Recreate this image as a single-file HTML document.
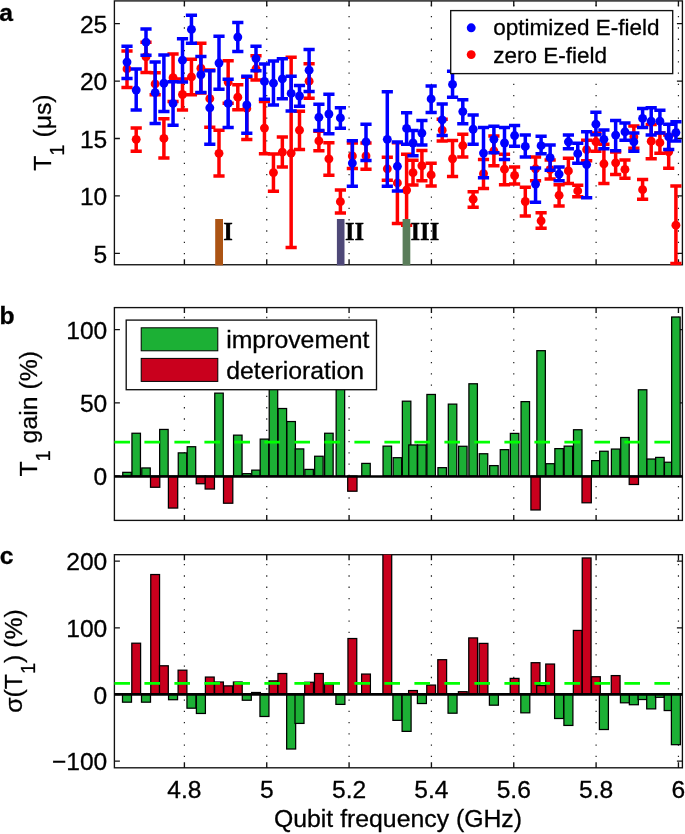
<!DOCTYPE html>
<html lang="en"><head><meta charset="utf-8"><title>Figure</title>
<style>html,body{margin:0;padding:0;background:#fff}svg{display:block;will-change:transform;transform:translateZ(0)}</style></head>
<body>
<svg width="685" height="834" viewBox="0 0 685 834" font-family='"Liberation Sans", sans-serif' fill="#000"><style>text{stroke:#000;stroke-width:0.3px}</style>
<rect width="685" height="834" fill="#fff"/>
<defs>
<clipPath id="clipa"><rect x="113.5" y="0" width="569.8" height="265.65"/></clipPath>
<clipPath id="clipb"><rect x="114.4" y="307.6" width="568" height="212.8"/></clipPath>
<clipPath id="clipc"><rect x="114.4" y="554.7" width="568" height="213.1"/></clipPath>
</defs>
<line x1="184.4" y1="4.77" x2="184.4" y2="264.75" stroke="#222" stroke-width="1.2" stroke-dasharray="1.3 9.98"/>
<line x1="266.74" y1="4.77" x2="266.74" y2="264.75" stroke="#222" stroke-width="1.2" stroke-dasharray="1.3 9.98"/>
<line x1="349.08" y1="4.77" x2="349.08" y2="264.75" stroke="#222" stroke-width="1.2" stroke-dasharray="1.3 9.98"/>
<line x1="431.42" y1="4.77" x2="431.42" y2="264.75" stroke="#222" stroke-width="1.2" stroke-dasharray="1.3 9.98"/>
<line x1="513.76" y1="4.77" x2="513.76" y2="264.75" stroke="#222" stroke-width="1.2" stroke-dasharray="1.3 9.98"/>
<line x1="596.1" y1="4.77" x2="596.1" y2="264.75" stroke="#222" stroke-width="1.2" stroke-dasharray="1.3 9.98"/>
<line x1="678.44" y1="4.77" x2="678.44" y2="264.75" stroke="#222" stroke-width="1.2" stroke-dasharray="1.3 9.98"/>
<rect x="114.4" y="0.9" width="568" height="263.85" fill="none" stroke="#111" stroke-width="1.35"/>
<path d="M184.4 264.75v-5.5M184.4 0.9v5.5M266.74 264.75v-5.5M266.74 0.9v5.5M349.08 264.75v-5.5M349.08 0.9v5.5M431.42 264.75v-5.5M431.42 0.9v5.5M513.76 264.75v-5.5M513.76 0.9v5.5M596.1 264.75v-5.5M596.1 0.9v5.5M678.44 264.75v-5.5M678.44 0.9v5.5M114.4 253.35h5.5M682.4 253.35h-5.5M114.4 195.93h5.5M682.4 195.93h-5.5M114.4 138.51h5.5M682.4 138.51h-5.5M114.4 81.09h5.5M682.4 81.09h-5.5M114.4 23.67h5.5M682.4 23.67h-5.5" stroke="#111" stroke-width="1.35" fill="none"/>
<g clip-path="url(#clipa)"><g stroke="#ff0000" stroke-width="3.5" fill="none">
<path d="M127 50.91V87.39M121.4 50.91h11.2M121.4 87.39h11.2M136.2 127.88V151.16M130.6 127.88h11.2M130.6 151.16h11.2M146 42.2V72.59M140.4 42.2h11.2M140.4 72.59h11.2M155.15 72.82V94.84M149.55 72.82h11.2M149.55 94.84h11.2M163.9 118.7V157.93M158.3 118.7h11.2M158.3 157.93h11.2M173.05 53.9V101.5M167.45 53.9h11.2M167.45 101.5h11.2M182.5 78.9V110.1M176.9 78.9h11.2M176.9 110.1h11.2M191.45 59.17V94.84M185.85 59.17h11.2M185.85 94.84h11.2M200.9 43.34V93.01M195.3 43.34h11.2M195.3 93.01h11.2M209.8 69.95V127.3M204.2 69.95h11.2M204.2 127.3h11.2M219 130.17V176.05M213.4 130.17h11.2M213.4 176.05h11.2M228.15 60.78V103.33M222.55 60.78h11.2M222.55 103.33h11.2M237.8 84.86V109.87M232.2 84.86h11.2M232.2 109.87h11.2M246.8 77.29V139.58M241.2 77.29h11.2M241.2 139.58h11.2M256 55.85V80.05M250.4 55.85h11.2M250.4 80.05h11.2M264.45 101.5V153.8M258.85 101.5h11.2M258.85 153.8h11.2M273.45 153.91V191.19M267.85 153.91h11.2M267.85 191.19h11.2M282.35 137.05V166.88M276.75 137.05h11.2M276.75 166.88h11.2M291.15 57.22V247.62M285.55 57.22h11.2M285.55 247.62h11.2M299.5 111.13V149.44M293.9 111.13h11.2M293.9 149.44h11.2M309.1 63.65V98.28M303.5 63.65h11.2M303.5 98.28h11.2M318.9 131.32V150.82M313.3 131.32h11.2M313.3 150.82h11.2M328.9 142.79V175.25M323.3 142.79h11.2M323.3 175.25h11.2M340.4 190.04V212.98M334.8 190.04h11.2M334.8 212.98h11.2M352.35 143.02V168.6M346.75 143.02h11.2M346.75 168.6h11.2M366 143.02V169.28M360.4 143.02h11.2M360.4 169.28h11.2M387.3 157.24V180.18M381.7 157.24h11.2M381.7 180.18h11.2M397.4 142.79V223.42M391.8 142.79h11.2M391.8 223.42h11.2M406.6 154.37V225.14M401 154.37h11.2M401 225.14h11.2M413 160.22V185.11M407.4 160.22h11.2M407.4 185.11h11.2M421.9 150.59V180.64M416.3 150.59h11.2M416.3 180.64h11.2M431.15 163.2V185.92M425.55 163.2h11.2M425.55 185.92h11.2M442.2 119.27V141.07M436.6 119.27h11.2M436.6 141.07h11.2M452.55 140.61V176.51M446.95 140.61h11.2M446.95 176.51h11.2M462.8 134.3V156.9M457.2 134.3h11.2M457.2 156.9h11.2M473.15 191.65V207.25M467.55 191.65h11.2M467.55 207.25h11.2M483.5 159.42V188.44M477.9 159.42h11.2M477.9 188.44h11.2M493.9 135.91V165.73M488.3 135.91h11.2M488.3 165.73h11.2M504.5 154.37V184.65M498.9 154.37h11.2M498.9 184.65h11.2M514.6 166.99V184.08M509 166.99h11.2M509 184.08h11.2M525.3 187.18V216.08M519.7 187.18h11.2M519.7 216.08h11.2M535.55 157.01V180.64M529.95 157.01h11.2M529.95 180.64h11.2M541.1 212.87V228.24M535.5 212.87h11.2M535.5 228.24h11.2M550.15 160.11V178.92M544.55 160.11h11.2M544.55 178.92h11.2M559.1 184.65V206.1M553.5 184.65h11.2M553.5 206.1h11.2M568.4 158.27V183.39M562.8 158.27h11.2M562.8 183.39h11.2M577.75 185.23V196.81M572.15 185.23h11.2M572.15 196.81h11.2M586.65 140.15V160.8M581.05 140.15h11.2M581.05 160.8h11.2M595.9 133.04V151.16M590.3 133.04h11.2M590.3 151.16h11.2M603.9 144.16V183.39M598.3 144.16h11.2M598.3 183.39h11.2M615.65 151.96V174.56M610.05 151.96h11.2M610.05 174.56h11.2M624.95 159.99V178.34M619.35 159.99h11.2M619.35 178.34h11.2M633.85 126.04V148.18M628.25 126.04h11.2M628.25 148.18h11.2M642.6 179.61V199.34M637 179.61h11.2M637 199.34h11.2M651.2 124.44V158.73M645.6 124.44h11.2M645.6 158.73h11.2M659.9 133.04V153.23M654.3 133.04h11.2M654.3 153.23h11.2M668.7 135.1V168.37M663.1 135.1h11.2M663.1 168.37h11.2M675.9 185.92V263.57M670.3 185.92h11.2M670.3 263.57h11.2"/></g><g fill="#ff0000">
<circle cx="127" cy="68.92" r="4.45"/>
<circle cx="136.2" cy="139.35" r="4.45"/>
<circle cx="146" cy="56.76" r="4.45"/>
<circle cx="155.15" cy="83.95" r="4.45"/>
<circle cx="163.9" cy="138.43" r="4.45"/>
<circle cx="173.05" cy="77.64" r="4.45"/>
<circle cx="182.5" cy="94.5" r="4.45"/>
<circle cx="191.45" cy="76.95" r="4.45"/>
<circle cx="200.9" cy="68.23" r="4.45"/>
<circle cx="209.8" cy="98.63" r="4.45"/>
<circle cx="219" cy="153.34" r="4.45"/>
<circle cx="228.15" cy="82" r="4.45"/>
<circle cx="237.8" cy="97.14" r="4.45"/>
<circle cx="246.8" cy="108.38" r="4.45"/>
<circle cx="256" cy="68.81" r="4.45"/>
<circle cx="264.45" cy="128.11" r="4.45"/>
<circle cx="273.45" cy="172.61" r="4.45"/>
<circle cx="282.35" cy="152.19" r="4.45"/>
<circle cx="291.15" cy="153.11" r="4.45"/>
<circle cx="299.5" cy="130.17" r="4.45"/>
<circle cx="309.1" cy="81.19" r="4.45"/>
<circle cx="318.9" cy="140.95" r="4.45"/>
<circle cx="328.9" cy="158.85" r="4.45"/>
<circle cx="340.4" cy="201.63" r="4.45"/>
<circle cx="352.35" cy="155.98" r="4.45"/>
<circle cx="366" cy="155.98" r="4.45"/>
<circle cx="387.3" cy="168.82" r="4.45"/>
<circle cx="397.4" cy="182.93" r="4.45"/>
<circle cx="406.6" cy="190.04" r="4.45"/>
<circle cx="413" cy="172.72" r="4.45"/>
<circle cx="421.9" cy="165.73" r="4.45"/>
<circle cx="431.15" cy="174.9" r="4.45"/>
<circle cx="442.2" cy="130.17" r="4.45"/>
<circle cx="452.55" cy="158.73" r="4.45"/>
<circle cx="462.8" cy="145.54" r="4.45"/>
<circle cx="473.15" cy="199.22" r="4.45"/>
<circle cx="483.5" cy="173.76" r="4.45"/>
<circle cx="493.9" cy="150.82" r="4.45"/>
<circle cx="504.5" cy="169.17" r="4.45"/>
<circle cx="514.6" cy="175.48" r="4.45"/>
<circle cx="525.3" cy="201.51" r="4.45"/>
<circle cx="535.55" cy="168.82" r="4.45"/>
<circle cx="541.1" cy="220.78" r="4.45"/>
<circle cx="550.15" cy="169.51" r="4.45"/>
<circle cx="559.1" cy="195.32" r="4.45"/>
<circle cx="568.4" cy="170.89" r="4.45"/>
<circle cx="577.75" cy="190.96" r="4.45"/>
<circle cx="586.65" cy="149.67" r="4.45"/>
<circle cx="595.9" cy="141.87" r="4.45"/>
<circle cx="603.9" cy="163.78" r="4.45"/>
<circle cx="615.65" cy="162.86" r="4.45"/>
<circle cx="624.95" cy="169.4" r="4.45"/>
<circle cx="633.85" cy="136.82" r="4.45"/>
<circle cx="642.6" cy="189.7" r="4.45"/>
<circle cx="651.2" cy="141.18" r="4.45"/>
<circle cx="659.9" cy="142.67" r="4.45"/>
<circle cx="668.7" cy="151.73" r="4.45"/>
<circle cx="675.9" cy="225.14" r="4.45"/>
</g></g>
<g clip-path="url(#clipa)"><g stroke="#0000ff" stroke-width="3.5" fill="none">
<path d="M127 46.33V78.44M121.4 46.33h11.2M121.4 78.44h11.2M136.2 68.92V110.1M130.6 68.92h11.2M130.6 110.1h11.2M146 29.01V55.27M140.4 29.01h11.2M140.4 55.27h11.2M155.15 62.04V123.4M149.55 62.04h11.2M149.55 123.4h11.2M163.9 55.04V111.47M158.3 55.04h11.2M158.3 111.47h11.2M173.05 81.77V125.35M167.45 81.77h11.2M167.45 125.35h11.2M182.5 38.64V82M176.9 38.64h11.2M176.9 82h11.2M191.45 15.24V43.34M185.85 15.24h11.2M185.85 43.34h11.2M200.9 56.53V92.55M195.3 56.53h11.2M195.3 92.55h11.2M209.8 70.76V144.16M204.2 70.76h11.2M204.2 144.16h11.2M219 36.35V89.22M213.4 36.35h11.2M213.4 89.22h11.2M228.15 79.13V127.42M222.55 79.13h11.2M222.55 127.42h11.2M237.8 22.58V51.49M232.2 22.58h11.2M232.2 51.49h11.2M246.8 76.26V133.27M241.2 76.26h11.2M241.2 133.27h11.2M256 46.21V70.87M250.4 46.21h11.2M250.4 70.87h11.2M264.45 63.99V99.2M258.85 63.99h11.2M258.85 99.2h11.2M273.45 61.01V105.05M267.85 61.01h11.2M267.85 105.05h11.2M282.35 58.83V98.74M276.75 58.83h11.2M276.75 98.74h11.2M291.15 76.26V111.02M285.55 76.26h11.2M285.55 111.02h11.2M299.5 85.55V106.31M293.9 85.55h11.2M293.9 106.31h11.2M309.1 49.42V91.4M303.5 49.42h11.2M303.5 91.4h11.2M318.9 104.13V130.4M313.3 104.13h11.2M313.3 130.4h11.2M328.9 94.27V133.73M323.3 94.27h11.2M323.3 133.73h11.2M340.4 107.8V128.22M334.8 107.8h11.2M334.8 128.22h11.2M352.35 140.84V186.14M346.75 140.84h11.2M346.75 186.14h11.2M366 124.21V160.57M360.4 124.21h11.2M360.4 160.57h11.2M387.3 91.86V186.37M381.7 91.86h11.2M381.7 186.37h11.2M397.4 142.1V190.96M391.8 142.1h11.2M391.8 190.96h11.2M406.6 112.85V144.28M401 112.85h11.2M401 144.28h11.2M413 130.52V155.63M407.4 130.52h11.2M407.4 155.63h11.2M421.9 120.42V145.08M416.3 120.42h11.2M416.3 145.08h11.2M431.15 85.9V112.39M425.55 85.9h11.2M425.55 112.39h11.2M442.2 104.02V135.56M436.6 104.02h11.2M436.6 135.56h11.2M452.55 71.33V97.25M446.95 71.33h11.2M446.95 97.25h11.2M462.8 99.78V123.75M457.2 99.78h11.2M457.2 123.75h11.2M473.15 114.92V144.28M467.55 114.92h11.2M467.55 144.28h11.2M483.5 127.42V177.77M477.9 127.42h11.2M477.9 177.77h11.2M493.9 126.16V152.65M488.3 126.16h11.2M488.3 152.65h11.2M504.5 127.42V159.42M498.9 127.42h11.2M498.9 159.42h11.2M514.6 125.47V146.34M509 125.47h11.2M509 146.34h11.2M525.3 134.99V156.9M519.7 134.99h11.2M519.7 156.9h11.2M535.55 168.02V202.32M529.95 168.02h11.2M529.95 202.32h11.2M541.1 136.36V153.68M535.5 136.36h11.2M535.5 153.68h11.2M550.15 145.08V170.32M544.55 145.08h11.2M544.55 170.32h11.2M559.1 167.1V180.87M553.5 167.1h11.2M553.5 180.87h11.2M568.4 135.1V148.87M562.8 135.1h11.2M562.8 148.87h11.2M577.75 143.13V163.32M572.15 143.13h11.2M572.15 163.32h11.2M586.65 131.78V197.84M581.05 131.78h11.2M581.05 197.84h11.2M595.9 112.16V134.76M590.3 112.16h11.2M590.3 134.76h11.2M603.9 130.06V148.87M598.3 130.06h11.2M598.3 148.87h11.2M615.65 120.42V150.7M610.05 120.42h11.2M610.05 150.7h11.2M624.95 122.94V140.15M619.35 122.94h11.2M619.35 140.15h11.2M633.85 133.04V151.16M628.25 133.04h11.2M628.25 151.16h11.2M642.6 108.38V127.53M637 108.38h11.2M637 127.53h11.2M651.2 107.8V135.1M645.6 107.8h11.2M645.6 135.1h11.2M659.9 110.33V133.04M654.3 110.33h11.2M654.3 133.04h11.2M668.7 124.21V149.44M663.1 124.21h11.2M663.1 149.44h11.2M675.9 121.68V141.07M670.3 121.68h11.2M670.3 141.07h11.2"/></g><g fill="#0000ff">
<circle cx="127" cy="62.04" r="4.45"/>
<circle cx="136.2" cy="90.03" r="4.45"/>
<circle cx="146" cy="42.2" r="4.45"/>
<circle cx="155.15" cy="92.66" r="4.45"/>
<circle cx="163.9" cy="83.26" r="4.45"/>
<circle cx="173.05" cy="103.45" r="4.45"/>
<circle cx="182.5" cy="60.2" r="4.45"/>
<circle cx="191.45" cy="29.46" r="4.45"/>
<circle cx="200.9" cy="74.77" r="4.45"/>
<circle cx="209.8" cy="107.8" r="4.45"/>
<circle cx="219" cy="63.07" r="4.45"/>
<circle cx="228.15" cy="103.45" r="4.45"/>
<circle cx="237.8" cy="37.03" r="4.45"/>
<circle cx="246.8" cy="104.94" r="4.45"/>
<circle cx="256" cy="58.6" r="4.45"/>
<circle cx="264.45" cy="81.42" r="4.45"/>
<circle cx="273.45" cy="83.14" r="4.45"/>
<circle cx="282.35" cy="78.9" r="4.45"/>
<circle cx="291.15" cy="93.47" r="4.45"/>
<circle cx="299.5" cy="95.99" r="4.45"/>
<circle cx="309.1" cy="70.18" r="4.45"/>
<circle cx="318.9" cy="117.32" r="4.45"/>
<circle cx="328.9" cy="114" r="4.45"/>
<circle cx="340.4" cy="117.9" r="4.45"/>
<circle cx="352.35" cy="163.09" r="4.45"/>
<circle cx="366" cy="141.87" r="4.45"/>
<circle cx="387.3" cy="139.35" r="4.45"/>
<circle cx="397.4" cy="166.3" r="4.45"/>
<circle cx="406.6" cy="128.45" r="4.45"/>
<circle cx="413" cy="143.02" r="4.45"/>
<circle cx="421.9" cy="133.04" r="4.45"/>
<circle cx="431.15" cy="98.97" r="4.45"/>
<circle cx="442.2" cy="119.96" r="4.45"/>
<circle cx="452.55" cy="84.41" r="4.45"/>
<circle cx="462.8" cy="111.59" r="4.45"/>
<circle cx="473.15" cy="129.25" r="4.45"/>
<circle cx="483.5" cy="153.11" r="4.45"/>
<circle cx="493.9" cy="139.35" r="4.45"/>
<circle cx="504.5" cy="143.02" r="4.45"/>
<circle cx="514.6" cy="135.56" r="4.45"/>
<circle cx="525.3" cy="146.46" r="4.45"/>
<circle cx="535.55" cy="184.08" r="4.45"/>
<circle cx="541.1" cy="145.66" r="4.45"/>
<circle cx="550.15" cy="157.7" r="4.45"/>
<circle cx="559.1" cy="174.1" r="4.45"/>
<circle cx="568.4" cy="141.87" r="4.45"/>
<circle cx="577.75" cy="153.68" r="4.45"/>
<circle cx="586.65" cy="164.58" r="4.45"/>
<circle cx="595.9" cy="124.21" r="4.45"/>
<circle cx="603.9" cy="139.35" r="4.45"/>
<circle cx="615.65" cy="135.1" r="4.45"/>
<circle cx="624.95" cy="131.78" r="4.45"/>
<circle cx="633.85" cy="141.87" r="4.45"/>
<circle cx="642.6" cy="118.47" r="4.45"/>
<circle cx="651.2" cy="121.22" r="4.45"/>
<circle cx="659.9" cy="121.22" r="4.45"/>
<circle cx="668.7" cy="136.82" r="4.45"/>
<circle cx="675.9" cy="132.58" r="4.45"/>
</g></g>
<rect x="215.2" y="219" width="7.8" height="46.35" fill="#ac5414"/>
<rect x="336.9" y="219" width="7.6" height="46.35" fill="#4e4878"/>
<rect x="402.6" y="219" width="7.7" height="46.35" fill="#5a7d5a"/>
<text x="223.3" y="239.7" font-family='"Liberation Serif", serif' font-weight="bold" font-size="24.7">I</text>
<text x="345.0" y="239.7" font-family='"Liberation Serif", serif' font-weight="bold" font-size="24.7">II</text>
<text x="410.5" y="239.7" font-family='"Liberation Serif", serif' font-weight="bold" font-size="24.7">III</text>
<text x="107.3" y="262.55" font-size="24.6" text-anchor="end">5</text>
<text x="107.3" y="205.13" font-size="24.6" text-anchor="end">10</text>
<text x="107.3" y="147.71" font-size="24.6" text-anchor="end">15</text>
<text x="107.3" y="90.29" font-size="24.6" text-anchor="end">20</text>
<text x="107.3" y="32.87" font-size="24.6" text-anchor="end">25</text>
<rect x="450.7" y="10.6" width="222" height="63" fill="#fff" stroke="#111" stroke-width="1.35"/>
<circle cx="471.2" cy="27.8" r="4.45" fill="#0000ff"/><circle cx="471.2" cy="54.6" r="4.45" fill="#ff0000"/>
<text x="493.2" y="35.2" font-size="22.5">optimized E-field</text>
<text x="493.2" y="62.8" font-size="22.5">zero E-field</text>
<text transform="translate(50.9 132.6) rotate(-90)" font-size="24.8" text-anchor="middle">T<tspan font-size="20" dy="12.6">1</tspan><tspan dy="-12.6"> (μs)</tspan></text>
<text x="-0.8" y="21.3" font-size="24.7" font-weight="bold">a</text>
<line x1="184.4" y1="316.85" x2="184.4" y2="520.4" stroke="#222" stroke-width="1.2" stroke-dasharray="1.3 9.98"/>
<line x1="266.74" y1="316.85" x2="266.74" y2="520.4" stroke="#222" stroke-width="1.2" stroke-dasharray="1.3 9.98"/>
<line x1="349.08" y1="316.85" x2="349.08" y2="520.4" stroke="#222" stroke-width="1.2" stroke-dasharray="1.3 9.98"/>
<line x1="431.42" y1="316.85" x2="431.42" y2="520.4" stroke="#222" stroke-width="1.2" stroke-dasharray="1.3 9.98"/>
<line x1="513.76" y1="316.85" x2="513.76" y2="520.4" stroke="#222" stroke-width="1.2" stroke-dasharray="1.3 9.98"/>
<line x1="596.1" y1="316.85" x2="596.1" y2="520.4" stroke="#222" stroke-width="1.2" stroke-dasharray="1.3 9.98"/>
<line x1="678.44" y1="316.85" x2="678.44" y2="520.4" stroke="#222" stroke-width="1.2" stroke-dasharray="1.3 9.98"/>
<rect x="114.4" y="307.6" width="568" height="212.8" fill="none" stroke="#111" stroke-width="1.35"/>
<path d="M184.4 520.4v-5.5M184.4 307.6v5.5M266.74 520.4v-5.5M266.74 307.6v5.5M349.08 520.4v-5.5M349.08 307.6v5.5M431.42 520.4v-5.5M431.42 307.6v5.5M513.76 520.4v-5.5M513.76 307.6v5.5M596.1 520.4v-5.5M596.1 307.6v5.5M678.44 520.4v-5.5M678.44 307.6v5.5M114.4 476h5.5M682.4 476h-5.5M114.4 402.8h5.5M682.4 402.8h-5.5M114.4 329.6h5.5M682.4 329.6h-5.5" stroke="#111" stroke-width="1.35" fill="none"/>
<g clip-path="url(#clipb)" stroke="#000" stroke-width="1.25">
<rect x="122.75" y="472.34" width="8.5" height="3.66" fill="#1cb035"/>
<rect x="131.95" y="433.25" width="8.5" height="42.75" fill="#1cb035"/>
<rect x="141.75" y="467.95" width="8.5" height="8.05" fill="#1cb035"/>
<rect x="150.5" y="476" width="9.3" height="11.27" fill="#c9001d"/>
<rect x="159.65" y="429.44" width="8.5" height="46.56" fill="#1cb035"/>
<rect x="168.4" y="476" width="9.3" height="32.06" fill="#c9001d"/>
<rect x="178.25" y="452.87" width="8.5" height="23.13" fill="#1cb035"/>
<rect x="187.2" y="446.72" width="8.5" height="29.28" fill="#1cb035"/>
<rect x="196.25" y="476" width="9.3" height="7.76" fill="#c9001d"/>
<rect x="205.15" y="476" width="9.3" height="13.03" fill="#c9001d"/>
<rect x="214.75" y="393.14" width="8.5" height="82.86" fill="#1cb035"/>
<rect x="223.5" y="476" width="9.3" height="27.23" fill="#c9001d"/>
<rect x="233.55" y="435.15" width="8.5" height="40.85" fill="#1cb035"/>
<rect x="242.55" y="473.66" width="8.5" height="2.34" fill="#1cb035"/>
<rect x="251.75" y="470.14" width="8.5" height="5.86" fill="#1cb035"/>
<rect x="260.2" y="439.11" width="8.5" height="36.89" fill="#1cb035"/>
<rect x="269.2" y="380.84" width="8.5" height="95.16" fill="#1cb035"/>
<rect x="278.1" y="408.51" width="8.5" height="67.49" fill="#1cb035"/>
<rect x="286.9" y="421.54" width="8.5" height="54.46" fill="#1cb035"/>
<rect x="295.25" y="448.92" width="8.5" height="27.08" fill="#1cb035"/>
<rect x="304.85" y="469.41" width="8.5" height="6.59" fill="#1cb035"/>
<rect x="314.65" y="456.24" width="8.5" height="19.76" fill="#1cb035"/>
<rect x="324.65" y="433.25" width="8.5" height="42.75" fill="#1cb035"/>
<rect x="336.15" y="363.27" width="8.5" height="112.73" fill="#1cb035"/>
<rect x="347.7" y="476" width="9.3" height="15.23" fill="#c9001d"/>
<rect x="361.75" y="463.41" width="8.5" height="12.59" fill="#1cb035"/>
<rect x="383.05" y="446.13" width="8.5" height="29.87" fill="#1cb035"/>
<rect x="393.15" y="457.7" width="8.5" height="18.3" fill="#1cb035"/>
<rect x="402.35" y="401.19" width="8.5" height="74.81" fill="#1cb035"/>
<rect x="408.75" y="444.96" width="8.5" height="31.04" fill="#1cb035"/>
<rect x="417.65" y="444.96" width="8.5" height="31.04" fill="#1cb035"/>
<rect x="426.9" y="394.46" width="8.5" height="81.54" fill="#1cb035"/>
<rect x="437.95" y="467.66" width="8.5" height="8.34" fill="#1cb035"/>
<rect x="448.3" y="404.12" width="8.5" height="71.88" fill="#1cb035"/>
<rect x="458.55" y="446.28" width="8.5" height="29.72" fill="#1cb035"/>
<rect x="468.9" y="383.77" width="8.5" height="92.23" fill="#1cb035"/>
<rect x="479.25" y="453.75" width="8.5" height="22.25" fill="#1cb035"/>
<rect x="489.65" y="465.61" width="8.5" height="10.39" fill="#1cb035"/>
<rect x="500.25" y="449.65" width="8.5" height="26.35" fill="#1cb035"/>
<rect x="510.35" y="433.4" width="8.5" height="42.6" fill="#1cb035"/>
<rect x="521.05" y="401.63" width="8.5" height="74.37" fill="#1cb035"/>
<rect x="530.9" y="476" width="9.3" height="33.96" fill="#c9001d"/>
<rect x="536.85" y="350.68" width="8.5" height="125.32" fill="#1cb035"/>
<rect x="545.9" y="463.7" width="8.5" height="12.3" fill="#1cb035"/>
<rect x="554.85" y="448.62" width="8.5" height="27.38" fill="#1cb035"/>
<rect x="564.15" y="446.13" width="8.5" height="29.87" fill="#1cb035"/>
<rect x="573.5" y="429.74" width="8.5" height="46.26" fill="#1cb035"/>
<rect x="582" y="476" width="9.3" height="26.79" fill="#c9001d"/>
<rect x="591.65" y="460.63" width="8.5" height="15.37" fill="#1cb035"/>
<rect x="599.65" y="451.26" width="8.5" height="24.74" fill="#1cb035"/>
<rect x="611.4" y="449.06" width="8.5" height="26.94" fill="#1cb035"/>
<rect x="620.7" y="437.5" width="8.5" height="38.5" fill="#1cb035"/>
<rect x="629.2" y="476" width="9.3" height="8.49" fill="#c9001d"/>
<rect x="638.35" y="389.77" width="8.5" height="86.23" fill="#1cb035"/>
<rect x="646.95" y="459.02" width="8.5" height="16.98" fill="#1cb035"/>
<rect x="655.65" y="457.41" width="8.5" height="18.59" fill="#1cb035"/>
<rect x="664.45" y="462.24" width="8.5" height="13.76" fill="#1cb035"/>
<rect x="671.65" y="317.01" width="8.5" height="158.99" fill="#1cb035"/>
</g>
<line x1="114.4" y1="476.5" x2="682.4" y2="476.5" stroke="#000" stroke-width="2.7"/>
<line x1="114.4" y1="442.1" x2="682.4" y2="442.1" stroke="#00ff00" stroke-width="2.8" stroke-dasharray="15.6 14.4"/>
<text x="107.3" y="485.2" font-size="24.6" text-anchor="end">0</text>
<text x="107.3" y="412" font-size="24.6" text-anchor="end">50</text>
<text x="107.3" y="338.8" font-size="24.6" text-anchor="end">100</text>
<rect x="126.2" y="320.1" width="250.3" height="69.6" fill="#fff" stroke="#111" stroke-width="1.35"/>
<rect x="141.2" y="327.8" width="76.6" height="23" fill="#1cb035" stroke="#000" stroke-width="1"/>
<rect x="141.2" y="358.4" width="76.6" height="23" fill="#c9001d" stroke="#000" stroke-width="1"/>
<text x="226.2" y="347.9" font-size="24.8">improvement</text>
<text x="226.2" y="378.6" font-size="24.8">deterioration</text>
<text transform="translate(36.9 413.8) rotate(-90)" font-size="24.8" text-anchor="middle">T<tspan font-size="20" dy="12.6">1</tspan><tspan dy="-12.6"> gain (%)</tspan></text>
<text x="-0.4" y="324" font-size="24.7" font-weight="bold">b</text>
<line x1="184.4" y1="564.05" x2="184.4" y2="767.8" stroke="#222" stroke-width="1.2" stroke-dasharray="1.3 9.98"/>
<line x1="266.74" y1="564.05" x2="266.74" y2="767.8" stroke="#222" stroke-width="1.2" stroke-dasharray="1.3 9.98"/>
<line x1="349.08" y1="564.05" x2="349.08" y2="767.8" stroke="#222" stroke-width="1.2" stroke-dasharray="1.3 9.98"/>
<line x1="431.42" y1="564.05" x2="431.42" y2="767.8" stroke="#222" stroke-width="1.2" stroke-dasharray="1.3 9.98"/>
<line x1="513.76" y1="564.05" x2="513.76" y2="767.8" stroke="#222" stroke-width="1.2" stroke-dasharray="1.3 9.98"/>
<line x1="596.1" y1="564.05" x2="596.1" y2="767.8" stroke="#222" stroke-width="1.2" stroke-dasharray="1.3 9.98"/>
<line x1="678.44" y1="564.05" x2="678.44" y2="767.8" stroke="#222" stroke-width="1.2" stroke-dasharray="1.3 9.98"/>
<rect x="114.4" y="554.7" width="568" height="213.1" fill="none" stroke="#111" stroke-width="1.35"/>
<path d="M184.4 767.8v-5.5M184.4 554.7v5.5M266.74 767.8v-5.5M266.74 554.7v5.5M349.08 767.8v-5.5M349.08 554.7v5.5M431.42 767.8v-5.5M431.42 554.7v5.5M513.76 767.8v-5.5M513.76 554.7v5.5M596.1 767.8v-5.5M596.1 554.7v5.5M678.44 767.8v-5.5M678.44 554.7v5.5M114.4 761.08h5.5M682.4 761.08h-5.5M114.4 694.45h5.5M682.4 694.45h-5.5M114.4 627.82h5.5M682.4 627.82h-5.5M114.4 561.19h5.5M682.4 561.19h-5.5" stroke="#111" stroke-width="1.35" fill="none"/>
<g clip-path="url(#clipc)" stroke="#000" stroke-width="1.25">
<rect x="122.5" y="694.3" width="9.0" height="7.88" fill="#1cb035"/>
<rect x="131.8" y="643.2" width="8.8" height="51.1" fill="#c9001d"/>
<rect x="141.5" y="694.3" width="9.0" height="7.88" fill="#1cb035"/>
<rect x="150.75" y="574.53" width="8.8" height="119.77" fill="#c9001d"/>
<rect x="159.5" y="665.78" width="8.8" height="28.52" fill="#c9001d"/>
<rect x="168.55" y="694.3" width="9.0" height="5.41" fill="#1cb035"/>
<rect x="178.1" y="670.18" width="8.8" height="24.12" fill="#c9001d"/>
<rect x="186.95" y="694.3" width="9.0" height="13.89" fill="#1cb035"/>
<rect x="196.4" y="694.3" width="9.0" height="19.17" fill="#1cb035"/>
<rect x="205.4" y="677.06" width="8.8" height="17.24" fill="#c9001d"/>
<rect x="214.6" y="682.01" width="8.8" height="12.29" fill="#c9001d"/>
<rect x="223.75" y="685.88" width="8.8" height="8.42" fill="#c9001d"/>
<rect x="233.4" y="682.01" width="8.8" height="12.29" fill="#c9001d"/>
<rect x="242.3" y="694.3" width="9.0" height="5.94" fill="#1cb035"/>
<rect x="251.6" y="692.5" width="8.8" height="1.8" fill="#c9001d"/>
<rect x="259.95" y="694.3" width="9.0" height="22.18" fill="#1cb035"/>
<rect x="269.05" y="680.87" width="8.8" height="13.43" fill="#c9001d"/>
<rect x="277.95" y="673.52" width="8.8" height="20.78" fill="#c9001d"/>
<rect x="286.65" y="694.3" width="9.0" height="54.71" fill="#1cb035"/>
<rect x="295" y="694.3" width="9.0" height="29.12" fill="#1cb035"/>
<rect x="304.7" y="682.27" width="8.8" height="12.03" fill="#c9001d"/>
<rect x="314.5" y="673.52" width="8.8" height="20.78" fill="#c9001d"/>
<rect x="324.5" y="684.21" width="8.8" height="10.09" fill="#c9001d"/>
<rect x="335.9" y="694.3" width="9.0" height="10.09" fill="#1cb035"/>
<rect x="347.95" y="638.52" width="8.8" height="55.78" fill="#c9001d"/>
<rect x="361.6" y="674.06" width="8.8" height="20.24" fill="#c9001d"/>
<rect x="382.9" y="494.5" width="8.8" height="199.8" fill="#c9001d"/>
<rect x="392.9" y="694.3" width="9.0" height="26.05" fill="#1cb035"/>
<rect x="402.1" y="694.3" width="9.0" height="37.07" fill="#1cb035"/>
<rect x="408.6" y="690.56" width="8.8" height="3.74" fill="#c9001d"/>
<rect x="417.4" y="694.3" width="9.0" height="9.22" fill="#1cb035"/>
<rect x="426.75" y="685.08" width="8.8" height="9.22" fill="#c9001d"/>
<rect x="437.8" y="659.7" width="8.8" height="34.6" fill="#c9001d"/>
<rect x="448.05" y="694.3" width="9.0" height="18.9" fill="#1cb035"/>
<rect x="458.4" y="691.69" width="8.8" height="2.61" fill="#c9001d"/>
<rect x="468.75" y="637.92" width="8.8" height="56.38" fill="#c9001d"/>
<rect x="479.1" y="643.4" width="8.8" height="50.9" fill="#c9001d"/>
<rect x="489.4" y="694.3" width="9.0" height="10.89" fill="#1cb035"/>
<rect x="510.2" y="678.4" width="8.8" height="15.9" fill="#c9001d"/>
<rect x="520.8" y="694.3" width="9.0" height="18.52" fill="#1cb035"/>
<rect x="531.15" y="662.7" width="8.8" height="31.6" fill="#c9001d"/>
<rect x="536.7" y="685.55" width="8.8" height="8.75" fill="#c9001d"/>
<rect x="545.75" y="664.04" width="8.8" height="30.26" fill="#c9001d"/>
<rect x="554.6" y="694.3" width="9.0" height="24.2" fill="#1cb035"/>
<rect x="563.9" y="694.3" width="9.0" height="31.14" fill="#1cb035"/>
<rect x="573.35" y="630.44" width="8.8" height="63.86" fill="#c9001d"/>
<rect x="582.25" y="557.96" width="8.8" height="136.34" fill="#c9001d"/>
<rect x="591.5" y="676.73" width="8.8" height="17.57" fill="#c9001d"/>
<rect x="599.4" y="694.3" width="9.0" height="35.22" fill="#1cb035"/>
<rect x="611.25" y="675.59" width="8.8" height="18.71" fill="#c9001d"/>
<rect x="620.45" y="694.3" width="9.0" height="8.5" fill="#1cb035"/>
<rect x="629.35" y="694.3" width="9.0" height="10.43" fill="#1cb035"/>
<rect x="638.1" y="694.3" width="9.0" height="5.22" fill="#1cb035"/>
<rect x="646.7" y="694.3" width="9.0" height="14.58" fill="#1cb035"/>
<rect x="655.4" y="694.3" width="9.0" height="3.02" fill="#1cb035"/>
<rect x="664.2" y="694.3" width="9.0" height="16.25" fill="#1cb035"/>
<rect x="671.4" y="694.3" width="9.0" height="50.38" fill="#1cb035"/>
</g>
<line x1="114.4" y1="694.3" x2="682.4" y2="694.3" stroke="#000" stroke-width="2.7"/>
<line x1="114.4" y1="683.3" x2="682.4" y2="683.3" stroke="#00ff00" stroke-width="2.8" stroke-dasharray="15.6 14.4"/>
<text x="107.3" y="770.28" font-size="24.6" text-anchor="end">−100</text>
<text x="107.3" y="703.65" font-size="24.6" text-anchor="end">0</text>
<text x="107.3" y="637.02" font-size="24.6" text-anchor="end">100</text>
<text x="107.3" y="570.39" font-size="24.6" text-anchor="end">200</text>
<text transform="translate(22 661) rotate(-90)" font-size="24.8" text-anchor="middle">σ(T<tspan font-size="20" dy="12.6">1</tspan><tspan dy="-12.6">) (%)</tspan></text>
<text x="-0.3" y="563.8" font-size="24.7" font-weight="bold">c</text>
<text x="184.4" y="797.7" font-size="24.6" text-anchor="middle">4.8</text>
<text x="266.74" y="797.7" font-size="24.6" text-anchor="middle">5</text>
<text x="349.08" y="797.7" font-size="24.6" text-anchor="middle">5.2</text>
<text x="431.42" y="797.7" font-size="24.6" text-anchor="middle">5.4</text>
<text x="513.76" y="797.7" font-size="24.6" text-anchor="middle">5.6</text>
<text x="596.1" y="797.7" font-size="24.6" text-anchor="middle">5.8</text>
<text x="678.44" y="797.7" font-size="24.6" text-anchor="middle">6</text>
<text x="398" y="827.2" font-size="24.8" text-anchor="middle">Qubit frequency (GHz)</text>
</svg>
</body></html>
